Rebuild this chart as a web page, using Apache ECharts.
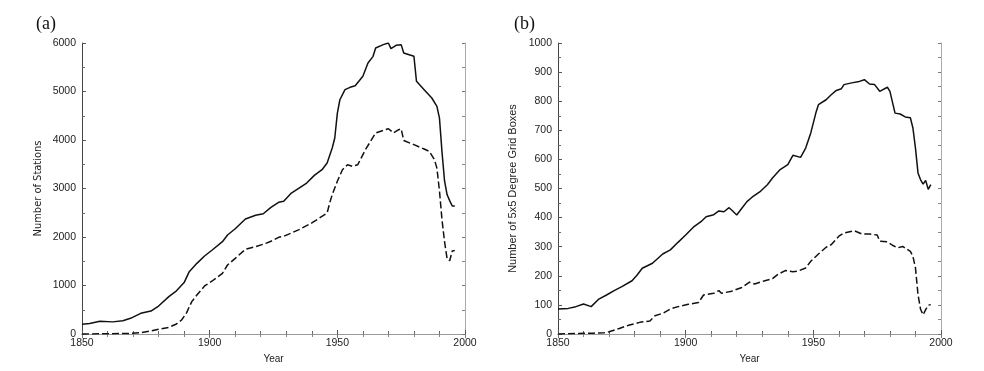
<!DOCTYPE html>
<html>
<head>
<meta charset="utf-8">
<script src="https://cdn.jsdelivr.net/npm/echarts@6/dist/echarts.min.js"></script>
<style>
html,body{margin:0;padding:0;background:#fff;}
#c{width:984px;height:371px;}
</style>
</head>
<body>
<div id="c"></div>
<script>
// Panel (a): number of stations
const stationsAllYears = [1850,1853,1857,1862,1866,1869,1873,1877,1880,1884,1887,1890,1892,1895,1898,1901,1905,1907,1910,1914,1918,1921,1924,1927,1929,1932,1935,1938,1941,1944,1946,1948,1949,1950,1951,1953,1955,1957,1960,1962,1964,1965,1968,1970,1971,1973,1975,1976,1980,1981,1984,1987,1989,1990,1991,1992,1993,1994,1995,1996];
const stationsAll = [200,215,262,250,275,323,426,474,577,770,890,1060,1285,1457,1608,1732,1903,2041,2170,2371,2447,2480,2610,2715,2735,2907,3010,3113,3271,3388,3526,3835,4041,4550,4830,5038,5086,5120,5313,5588,5725,5897,5966,6000,5883,5952,5966,5794,5725,5210,5038,4866,4694,4450,3750,3150,2870,2750,2640,2640];
const stationsSubYears = [1850,1860,1868,1873,1877,1880,1884,1887,1889,1891,1892,1893,1895,1898,1901,1905,1907,1910,1914,1918,1922,1924,1927,1929,1935,1940,1946,1947,1948,1950,1952,1954,1956,1958,1961,1963,1965,1970,1972,1974,1975,1976,1980,1984,1986,1988,1989,1990,1991,1992,1993,1994,1995,1996];
const stationsSub = [0,5,10,27,62,96,137,206,289,440,560,667,804,990,1093,1251,1423,1560,1746,1801,1869,1911,1993,2014,2151,2289,2495,2700,2873,3148,3388,3491,3457,3491,3800,3972,4144,4233,4144,4213,4230,3990,3904,3814,3766,3600,3420,2950,2350,1900,1550,1510,1710,1720];

// Panel (b): number of 5x5 degree grid boxes
const boxesAllYears = [1850,1854,1857,1860,1863,1866,1869,1872,1875,1879,1881,1883,1887,1891,1894,1897,1900,1903,1906,1908,1911,1913,1915,1917,1918,1920,1922,1924,1926,1929,1932,1934,1937,1940,1942,1945,1947,1949,1951,1952,1955,1957,1959,1961,1962,1965,1968,1970,1972,1974,1976,1979,1980,1982,1984,1986,1988,1989,1990,1991,1992,1993,1994,1995,1996];
const boxesAll = [86,88,94,103,94,120,134,149,163,183,203,226,243,275,289,315,340,367,386,403,410,423,420,434,426,409,432,455,470,488,513,536,565,582,614,607,639,691,760,788,805,822,837,843,857,863,868,874,859,857,834,848,834,759,756,746,743,708,639,553,530,515,528,497,513];
const boxesSubYears = [1850,1858,1864,1868,1870,1874,1878,1882,1886,1888,1891,1894,1897,1901,1905,1907,1911,1913,1914,1918,1922,1925,1927,1931,1934,1936,1939,1942,1944,1947,1949,1952,1955,1957,1960,1962,1966,1969,1972,1975,1976,1979,1981,1983,1985,1988,1989,1990,1991,1992,1993,1994,1995,1996];
const boxesSub = [0,2,3,4,8,19,31,40,45,63,71,86,94,102,108,134,140,149,140,147,160,178,172,183,190,204,218,214,216,227,250,275,298,307,336,347,355,344,344,340,319,317,305,296,301,284,267,227,135,85,66,84,99,101];

// Axis ticks
const yearTicks = ['1850','1900','1950','2000'];
const stationTicks = ['0','1000','2000','3000','4000','5000','6000'];
const boxTicks = ['0','100','200','300','400','500','600','700','800','900','1000'];

const pair = (xs, ys) => xs.map((x, i) => [x, ys[i]]);

const chart = echarts.init(document.getElementById('c'), null, {renderer: 'canvas'});
const labelFont = {fontFamily: 'Liberation Sans, Arial, sans-serif', fontSize: 10.5, color: '#222'};

function xAxes(gi, title) {
  return [{
    gridIndex: gi, type: 'value', min: 1850, max: 2000, interval: 50, position: 'bottom',
    axisLine: {show: true, lineStyle: {color: '#444', width: 1}},
    axisTick: {show: true, inside: true, length: 4, lineStyle: {color: '#555'}},
    minorTick: {show: true, splitNumber: 5, length: 3, lineStyle: {color: '#666'}},
    splitLine: {show: false},
    axisLabel: Object.assign({margin: 4, formatter: v => yearTicks.includes(String(v)) ? String(v) : ''}, labelFont),
    name: title, nameLocation: 'middle', nameGap: 18,
    nameTextStyle: {fontFamily: 'Liberation Sans, Arial, sans-serif', fontSize: 10, color: '#222'}
  }, {
    gridIndex: gi, type: 'value', min: 1850, max: 2000, interval: 50, position: 'top',
    axisLine: {show: true, lineStyle: {color: '#999', width: 1}},
    axisTick: {show: true, inside: true, length: 4, lineStyle: {color: '#777'}},
    minorTick: {show: true, splitNumber: 5, length: 3, lineStyle: {color: '#888'}},
    splitLine: {show: false}, axisLabel: {show: false}
  }];
}

function yAxes(gi, max, interval, ticks, title, nameGap, nameFont) {
  return [{
    gridIndex: gi, type: 'value', min: 0, max: max, interval: interval, position: 'left',
    axisLine: {show: true, lineStyle: {color: '#444', width: 1}},
    axisTick: {show: true, inside: true, length: 4, lineStyle: {color: '#555'}},
    minorTick: {show: true, splitNumber: 2, length: 3, lineStyle: {color: '#666'}},
    splitLine: {show: false},
    axisLabel: Object.assign({margin: 6, formatter: v => ticks.includes(String(v)) ? String(v) : ''}, labelFont),
    name: title, nameLocation: 'middle', nameRotate: 90, nameGap: nameGap,
    nameTextStyle: nameFont
  }, {
    gridIndex: gi, type: 'value', min: 0, max: max, interval: interval, position: 'right',
    axisLine: {show: true, lineStyle: {color: '#aaa', width: 1}},
    axisTick: {show: true, inside: true, length: 3, lineStyle: {color: '#777'}},
    minorTick: {show: true, splitNumber: 2, length: 3, lineStyle: {color: '#888'}},
    splitLine: {show: false}, axisLabel: {show: false}
  }];
}

const solid = {color: '#111', width: 1.5, type: 'solid'};
const dashed = {color: '#111', width: 1.5, type: [7, 3]};

chart.setOption({
  animation: false,
  backgroundColor: '#fff',
  title: [
    {text: '(a)', left: 31, top: 10, textStyle: {fontFamily: 'Liberation Serif, Times New Roman, serif', fontSize: 18, fontWeight: 'normal', color: '#111'}},
    {text: '(b)', left: 509, top: 10, textStyle: {fontFamily: 'Liberation Serif, Times New Roman, serif', fontSize: 18, fontWeight: 'normal', color: '#111'}}
  ],
  grid: [
    {left: 82, top: 43, width: 383, height: 291},
    {left: 558, top: 43, width: 383, height: 291}
  ],
  xAxis: [...xAxes(0, 'Year'), ...xAxes(1, 'Year')],
  yAxis: [
    ...yAxes(0, 6000, 1000, stationTicks, 'Number of Stations', 38,
      {fontFamily: 'Liberation Sans Narrow, Arial Narrow, DejaVu Sans Condensed, sans-serif', fontSize: 11, color: '#222'}),
    ...yAxes(1, 1000, 100, boxTicks, 'Number of 5x5 Degree Grid Boxes', 40,
      {fontFamily: 'Liberation Sans, Arial, sans-serif', fontSize: 11, color: '#222'})
  ],
  series: [
    {type: 'line', xAxisIndex: 0, yAxisIndex: 0, data: pair(stationsAllYears, stationsAll), showSymbol: false, lineStyle: solid},
    {type: 'line', xAxisIndex: 0, yAxisIndex: 0, data: pair(stationsSubYears, stationsSub), showSymbol: false, lineStyle: dashed},
    {type: 'line', xAxisIndex: 2, yAxisIndex: 2, data: pair(boxesAllYears, boxesAll), showSymbol: false, lineStyle: solid},
    {type: 'line', xAxisIndex: 2, yAxisIndex: 2, data: pair(boxesSubYears, boxesSub), showSymbol: false, lineStyle: dashed}
  ]
});
</script>
</body>
</html>
